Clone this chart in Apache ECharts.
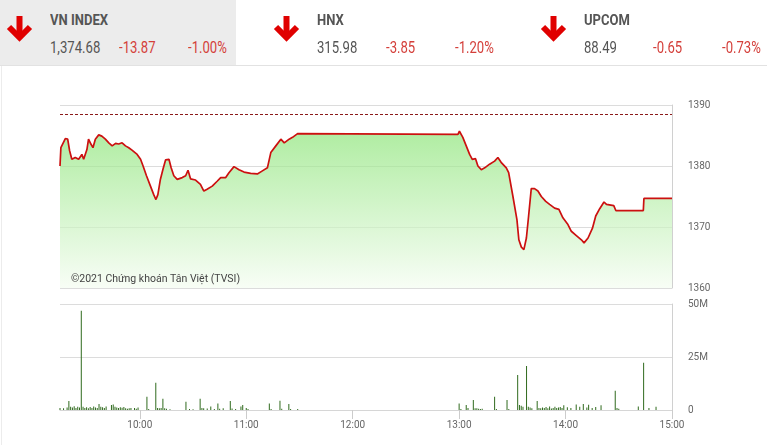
<!DOCTYPE html>
<html>
<head>
<meta charset="utf-8">
<script src="https://cdn.jsdelivr.net/npm/echarts@6/dist/echarts.min.js"></script>
<style>
  html, body { margin:0; padding:0; background:#fff; }
  body { width:767px; height:445px; position:relative; overflow:hidden; font-family: Roboto, "Noto Sans", sans-serif; }
  #chart { position:absolute; left:0; top:0; width:767px; height:445px; }
  .t { position:absolute; white-space:nowrap; transform-origin:0 0; line-height:1; }
  .name { font-size:15.5px; font-weight:700; color:#555; transform:scaleX(0.84); top:13px; }
  .val { font-size:16px; color:#555; transform:scaleX(0.82); top:40px; }
  .chg { font-size:16px; color:#d43f3a; transform:scaleX(0.82); top:40px; }
</style>
</head>
<body>
<div id="chart"></div>
<div id="hdr"></div>
<script>
// ---- header data ----
const indexNames   = ['VN INDEX', 'HNX', 'UPCOM'];
const indexValues  = ['1,374.68', '315.98', '88.49'];
const indexChanges = ['-13.87', '-3.85', '-0.65'];
const indexPcts    = ['-1.00%', '-1.20%', '-0.73%'];

// ---- chart data ----
const refPrice = 1388.55;
const priceTicks = [1360, 1370, 1380, 1390];
const volTicksM = [0, 25, 50];
const timeTickLabels = ['10:00', '11:00', '12:00', '13:00', '14:00', '15:00'];

const priceTimes = [
 '9:15:00','9:15:30','9:18:00','9:19:20','9:20:25','9:21:40','9:23:35','9:25:30','9:27:20','9:28:20',
 '9:30:10','9:31:05','9:32:25','9:33:35','9:34:55','9:36:50','9:38:35','9:40:35','9:42:30','9:44:25',
 '9:46:20','9:48:05','9:50:00','9:51:55','9:53:45','9:55:35','9:58:30','10:00:25','10:01:50','10:03:45',
 '10:06:00','10:07:50','10:09:05','10:10:10','10:11:35','10:13:05','10:14:30','10:16:25','10:17:40','10:19:10',
 '10:21:05','10:23:55','10:25:50','10:27:10','10:28:35','10:31:25','10:34:10','10:36:05','10:37:55','10:40:50',
 '10:43:35','10:45:35','10:48:25','10:50:15','10:53:05','10:55:55','10:58:45','11:02:30','11:06:15','11:09:05',
 '11:11:55','11:13:50','11:16:40','11:19:30','11:21:25','11:24:10','11:26:05','11:28:55','11:30:00',
 '12:59:20','13:00:10','13:02:05','13:04:00','13:05:55','13:07:25','13:09:15','13:10:35','13:12:30','13:14:25',
 '13:17:10','13:20:00','13:21:50','13:23:40','13:26:35','13:27:55','13:30:20','13:32:35','13:33:40','13:35:05',
 '13:36:30','13:37:55','13:39:10','13:40:40','13:42:30','13:44:25','13:46:20','13:48:50','13:51:00','13:53:50',
 '13:56:15','13:58:30','14:01:20','14:03:15','14:06:05','14:08:55','14:10:25','14:12:40','14:15:10','14:17:00',
 '14:19:15','14:21:40','14:23:05','14:27:10','14:28:20','14:43:50','14:44:10','15:00:00'
];
const priceValues = [
 1380.0,1383.0,1384.5,1384.4,1382.5,1381.1,1381.4,1381.1,1381.9,1381.1,
 1382.7,1384.4,1383.6,1383.0,1384.4,1385.1,1384.9,1384.4,1383.8,1383.3,
 1383.7,1383.6,1383.8,1383.3,1383.0,1382.6,1381.9,1381.1,1380.0,1378.4,
 1376.7,1375.3,1374.5,1375.3,1377.8,1379.5,1381.0,1381.1,1379.7,1378.4,
 1377.8,1378.1,1378.4,1379.3,1377.9,1377.7,1377.0,1375.9,1376.2,1376.7,
 1377.5,1378.1,1378.1,1378.9,1379.9,1379.4,1379.0,1378.8,1378.7,1379.2,
 1379.7,1382.2,1383.3,1384.4,1383.8,1384.4,1384.7,1385.3,1385.4,
 1385.2,1385.7,1384.7,1383.3,1381.9,1381.1,1381.2,1380.0,1379.4,1379.7,
 1380.3,1380.8,1381.4,1380.6,1379.7,1378.9,1375.0,1371.2,1367.9,1366.7,
 1366.3,1368.2,1371.8,1376.3,1376.3,1375.9,1375.0,1374.2,1373.7,1373.1,
 1372.9,1371.5,1370.4,1369.3,1368.6,1367.9,1367.4,1368.2,1369.8,1371.8,
 1373.0,1374.1,1373.7,1373.5,1372.7,1372.7,1374.68,1374.68
];

const volTimes = [
 '9:15','9:17','9:19','9:20','9:21','9:22','9:23','9:24','9:25','9:26','9:27','9:28','9:29','9:30','9:31','9:32',
 '9:33','9:34','9:35','9:36','9:37','9:38','9:39','9:40','9:41','9:44','9:45','9:46','9:47','9:48','9:49','9:50',
 '9:51','9:52','9:53','9:54','9:55','9:57','9:58','9:59','10:04','10:05','10:09','10:10','10:11','10:12','10:13',
 '10:14','10:15','10:17','10:26','10:28','10:30','10:34','10:35','10:36','10:38','10:40','10:42','10:44','10:45',
 '10:47','10:51','10:52','10:54','10:57','10:58','11:00','11:01','11:13','11:14','11:19','11:20','11:24','11:25','11:29',
 '13:00','13:01','13:04','13:05','13:08','13:09','13:10','13:11','13:12','13:13','13:20','13:21','13:27','13:28',
 '13:33','13:34','13:35','13:36','13:38','13:39','13:40','13:41','13:44','13:45','13:46','13:47','13:48','13:49',
 '13:50','13:51','13:52','13:53','13:54','13:55','13:56','13:57','13:58','13:59','14:01','14:03','14:06','14:08',
 '14:10','14:12','14:13','14:15','14:17','14:20','14:28','14:29','14:30','14:41','14:44','14:47','14:51'
];
const volValuesM = [
 1.0,0.8,1.2,4.2,1.5,1.2,1.8,1.0,1.5,1.2,46.8,1.5,1.0,1.3,0.8,1.4,
 1.0,1.6,1.2,0.9,2.8,1.5,1.3,1.0,1.6,2.4,2.6,1.5,1.2,0.9,1.3,1.1,
 1.4,0.8,0.6,0.8,1.0,1.0,0.6,1.2,6.3,0.5,12.9,1.0,0.8,1.0,5.3,
 0.8,0.6,0.4,3.9,0.5,0.4,5.3,1.0,0.8,0.7,1.6,0.5,3.1,0.6,
 0.8,4.2,0.7,0.5,1.6,2.4,1.0,0.5,3.1,0.5,4.4,0.6,2.8,0.5,0.5,
 3.1,0.5,2.4,1.0,4.7,0.8,0.8,0.6,0.5,0.6,6.3,0.5,4.7,0.5,
 16.5,2.4,2.0,1.5,20.8,1.5,1.2,0.8,4.2,1.0,0.8,1.2,0.9,1.4,
 0.8,1.6,0.7,1.0,1.5,0.9,1.2,1.4,1.0,2.2,1.3,1.0,2.6,1.5,
 2.8,1.2,2.5,1.0,1.4,2.2,9.1,1.0,0.6,1.6,22.3,1.0,1.5
];

function toMin(s) {
  const p = s.split(':').map(Number);
  return p[0] * 60 + p[1] + (p[2] || 0) / 60 - 540; // minutes since 9:00
}
const tickMins = timeTickLabels.map(toMin);
const priceData = priceTimes.map((t, i) => [toMin(t), priceValues[i]]);
const volData = volTimes.map((t, i) => [toMin(t), volValuesM[i] * 1e6]);

// ---- header ----
const hdr = document.getElementById('hdr');
let html = '<div style="position:absolute;left:0;top:0;width:236px;height:65px;background:#ececec"></div>' +
           '<div style="position:absolute;left:0;top:65px;width:767px;height:1px;background:#e2e2e2"></div>' +
           '<div style="position:absolute;left:1px;top:66px;width:1px;height:379px;background:#ececec"></div>';
indexNames.forEach((n, i) => {
  const b = i * 267;
  html += '<svg style="position:absolute;left:' + (b + 6) + 'px;top:16px" width="27" height="26" viewBox="0 0 27 26">' +
          '<line x1="13.5" y1="0" x2="13.5" y2="20" stroke="#e00000" stroke-width="6"/>' +
          '<polyline points="3,11 13.5,21.5 24,11" fill="none" stroke="#e00000" stroke-width="6" stroke-linejoin="miter"/></svg>';
  html += '<div class="t name" style="left:' + (b + 50) + 'px">' + n + '</div>';
  html += '<div class="t val" style="left:' + (b + 50) + 'px">' + indexValues[i] + '</div>';
  html += '<div class="t chg" style="left:' + (b + 119) + 'px">' + indexChanges[i] + '</div>';
  html += '<div class="t chg" style="left:' + (b + 188) + 'px">' + indexPcts[i] + '</div>';
});
hdr.innerHTML = html;

// ---- chart ----
const chart = echarts.init(document.getElementById('chart'), null, { renderer: 'canvas' });
const axisFont = { color: '#666', fontSize: 10, fontFamily: 'Roboto' };
chart.setOption({
  animation: false,
  grid: [
    { left: 60, right: 95, top: 105, height: 183 },
    { left: 60, right: 95, top: 304, height: 106 }
  ],
  xAxis: [
    { type: 'value', gridIndex: 0, min: 15, max: 360, show: false },
    { type: 'value', gridIndex: 1, min: 15, max: 360,
      axisLine: { show: true, lineStyle: { color: '#d6d6d6' } },
      axisTick: { show: true, length: 9, lineStyle: { color: '#ccc' }, customValues: tickMins },
      axisLabel: Object.assign({ margin: 10, customValues: tickMins,
        formatter: v => { const i = tickMins.indexOf(v); return i >= 0 ? timeTickLabels[i] : ''; } }, axisFont),
      splitLine: { show: false } }
  ],
  yAxis: [
    { type: 'value', gridIndex: 0, position: 'right', min: priceTicks[0], max: priceTicks[priceTicks.length - 1], interval: 10,
      axisLine: { show: true, lineStyle: { color: '#d0d0d0' } }, axisTick: { show: false },
      axisLabel: Object.assign({ margin: 16, padding: [3, 0, 0, 0], formatter: v => String(v) }, axisFont),
      splitLine: { lineStyle: { color: '#dcdcdc' } } },
    { type: 'value', gridIndex: 1, position: 'right', min: 0, max: 50e6, interval: 25e6,
      axisLine: { show: true, lineStyle: { color: '#d0d0d0' } }, axisTick: { show: false },
      axisLabel: Object.assign({ margin: 16, padding: [3, 0, 0, 0], formatter: v => v === 0 ? '0' : (v / 1e6) + 'M' }, axisFont),
      splitLine: { lineStyle: { color: '#dcdcdc' } } }
  ],
  graphic: [
    { type: 'text', left: 71, top: 274, silent: true, z: 100,
      style: { text: '©2021 Chứng khoán Tân Việt (TVSI)', fill: '#444', font: '10.5px Roboto' } }
  ],
  series: [
    { type: 'line', xAxisIndex: 0, yAxisIndex: 0, data: priceData, showSymbol: false, symbol: 'none',
      lineStyle: { color: '#cc1010', width: 1.7 },
      areaStyle: { origin: 'start', color: new echarts.graphic.LinearGradient(0, 0, 0, 1, [
        { offset: 0, color: '#8de479' }, { offset: 1, color: '#f4fcf1' } ]) },
      markLine: { silent: true, symbol: 'none', label: { show: false },
        lineStyle: { color: '#8b1a1a', type: [3, 2], width: 1 },
        data: [{ yAxis: refPrice }] } },
    { type: 'bar', xAxisIndex: 1, yAxisIndex: 1, data: volData, barWidth: 1,
      itemStyle: { color: '#2f6a1d' } }
  ]
});
</script>
</body>
</html>
